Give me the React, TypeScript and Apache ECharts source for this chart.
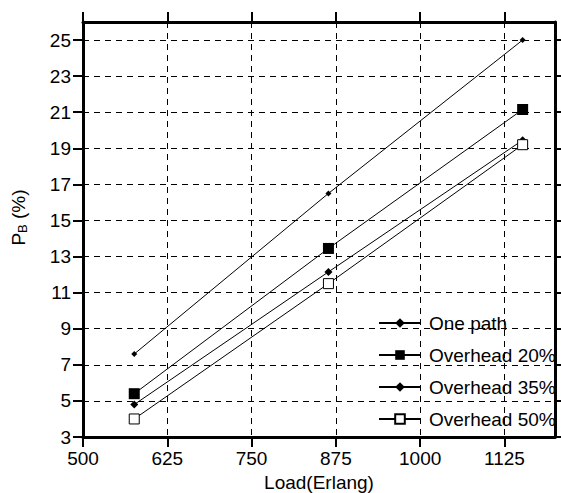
import React, { useEffect, useRef } from "react";
import * as echarts from "echarts";

// Data
const loads = [576, 864, 1152];
const onePath = [7.6, 16.5, 25.0];
const overhead20 = [5.4, 13.45, 21.15];
const overhead35 = [4.8, 12.15, 19.45];
const overhead50 = [4.0, 11.5, 19.2];
const seriesNames = ["One path", "Overhead 20%", "Overhead 35%", "Overhead 50%"];
const xTicks = [500, 625, 750, 875, 1000, 1125];
const yTicks = [3, 5, 7, 9, 11, 13, 15, 17, 19, 21, 23, 25];

const FONT = "'Liberation Sans', Arial, sans-serif";

export default function App() {
  const ref = useRef<HTMLDivElement>(null);

  useEffect(() => {
    if (!ref.current) return;
    const chart = echarts.init(ref.current, undefined, { renderer: "svg" });

    const pair = (vals: number[]) => loads.map((x, i) => [x, vals[i]]);

    const axisLine = { show: true, lineStyle: { color: "#000", width: 3 } };
    const tick = (values: number[]) => ({
      show: true,
      inside: false,
      length: 10,
      customValues: values,
      lineStyle: { color: "#000", width: 2 },
    });
    const grid = { show: true, lineStyle: { color: "#000", width: 1, type: [6, 5] as any } };
    const label = {
      color: "#000",
      fontSize: 19,
      fontFamily: FONT,
      formatter: (v: number) => String(v),
    };

    const mk = (name: string, vals: number[], symbol: string, size: number, hollow = false) => ({
      name,
      type: "line",
      data: pair(vals),
      symbol,
      symbolSize: size,
      showSymbol: true,
      lineStyle: { color: "#000", width: 1 },
      itemStyle: hollow
        ? { color: "#fff", borderColor: "#000", borderWidth: 1 }
        : { color: "#000", borderWidth: 0 },
      emphasis: { disabled: true },
      z: 3,
    });

    chart.setOption({
      animation: false,
      backgroundColor: "#fff",
      textStyle: { fontFamily: FONT, color: "#000" },
      grid: {
        left: 83,
        right: 6,
        top: 22,
        bottom: 56,
        containLabel: false,
        outerBoundsMode: "none",
      },
      legend: {
        orient: "vertical",
        left: 378,
        top: 313,
        padding: 0,
        itemWidth: 42,
        itemHeight: 12,
        itemGap: 12,
        data: seriesNames,
        textStyle: { color: "#000", fontSize: 19, fontFamily: FONT, lineHeight: 20, padding: [0, 0, 0, 3] },
        inactiveColor: "#000",
        selectedMode: false,
      },
      xAxis: [
        {
          type: "value",
          position: "bottom",
          min: 500,
          max: 1200,
          interval: 125,
          axisLine,
          axisTick: tick(xTicks),
          axisLabel: { ...label, margin: 12, customValues: xTicks },
          splitLine: grid,
          name: "Load(Erlang)",
          nameLocation: "middle",
          nameGap: 33,
          nameTextStyle: { color: "#000", fontSize: 19, fontFamily: FONT },
        },
        {
          type: "value",
          position: "top",
          min: 500,
          max: 1200,
          interval: 125,
          axisLine,
          axisTick: tick(xTicks),
          axisLabel: { show: false },
          splitLine: { show: false },
        },
      ],
      yAxis: [
        {
          type: "value",
          position: "left",
          min: 3,
          max: 26,
          interval: 1,
          axisLine,
          axisTick: tick(yTicks),
          axisLabel: { ...label, margin: 12, customValues: yTicks },
          splitLine: grid,
          name: "P{sub|B} (%)",
          nameLocation: "middle",
          nameGap: 54,
          nameRotate: 90,
          nameTextStyle: {
            color: "#000",
            fontSize: 19,
            fontFamily: FONT,
            padding: [0, 0, 0, 24],
            rich: {
              sub: { fontSize: 13, fontFamily: FONT, color: "#000", verticalAlign: "bottom", padding: [8, 0, 0, 0] },
            },
          },
        },
        {
          type: "value",
          position: "right",
          min: 3,
          max: 26,
          interval: 1,
          axisLine,
          axisTick: tick(yTicks),
          axisLabel: { show: false },
          splitLine: { show: false },
        },
      ],
      series: [
        mk(seriesNames[0], onePath, "diamond", 6),
        mk(seriesNames[1], overhead20, "rect", 11),
        mk(seriesNames[2], overhead35, "diamond", 8),
        mk(seriesNames[3], overhead50, "rect", 10, true),
      ],
    } as any);

    return () => chart.dispose();
  }, []);

  return (
    <div
      ref={ref}
      style={{ position: "absolute", left: 0, top: 0, width: 561, height: 493 }}
    />
  );
}
